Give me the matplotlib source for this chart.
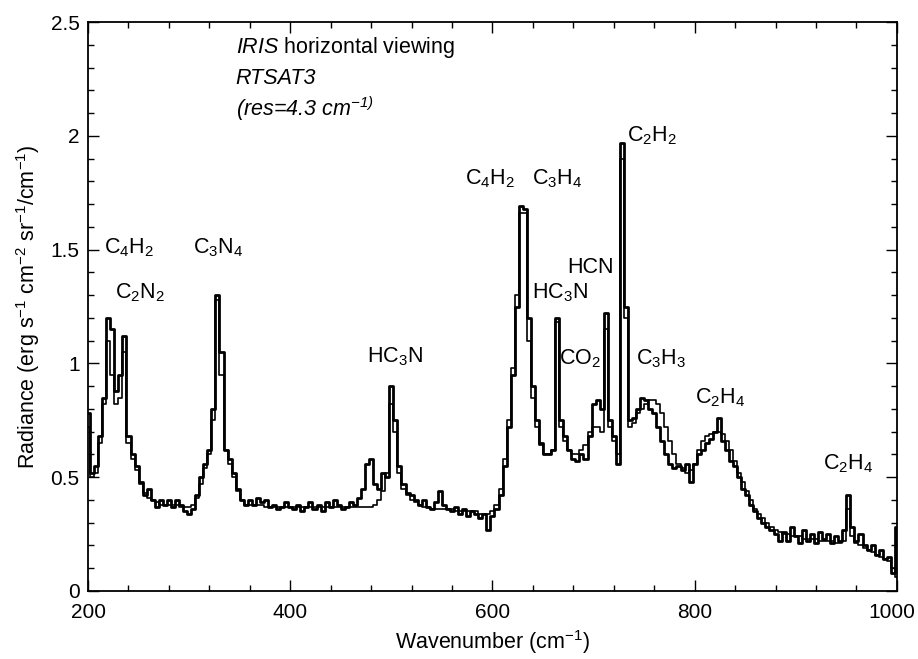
import numpy as np
import matplotlib
matplotlib.use("Agg")
import matplotlib.pyplot as plt
import matplotlib.transforms as mtransforms
from matplotlib.ticker import MultipleLocator, FormatStrFormatter

plt.rcParams['font.family'] = ['Liberation Sans', 'DejaVu Sans']
plt.rcParams['mathtext.fontset'] = 'custom'
plt.rcParams['mathtext.rm'] = 'Liberation Sans'
plt.rcParams['mathtext.it'] = 'Liberation Sans:italic'
plt.rcParams['mathtext.default'] = 'regular'

# wavenumber grid (cm-1), 4 cm-1 spacing
wavenumber = list(range(200, 1001, 4))

observed = [
    0.78, 0.52, 0.55, 0.68, 0.85, 1.20, 1.15, 0.88, 0.95, 1.12,   # 200-236
    0.68, 0.60, 0.55, 0.48, 0.42, 0.45, 0.40, 0.37, 0.40, 0.38,   # 240-276
    0.40, 0.37, 0.40, 0.38, 0.35, 0.34, 0.36, 0.42, 0.50, 0.56,   # 280-316
    0.62, 0.80, 1.30, 1.05, 0.62, 0.58, 0.52, 0.45, 0.40, 0.38,   # 320-356
    0.40, 0.38, 0.41, 0.39, 0.40, 0.37, 0.38, 0.36, 0.37, 0.39,   # 360-396
    0.37, 0.36, 0.38, 0.35, 0.37, 0.39, 0.36, 0.38, 0.35, 0.39,   # 400-436
    0.37, 0.40, 0.38, 0.36, 0.37, 0.39, 0.38, 0.41, 0.45, 0.56,   # 440-476
    0.58, 0.47, 0.45, 0.52, 0.50, 0.90, 0.75, 0.55, 0.47, 0.43,   # 480-516
    0.42, 0.40, 0.38, 0.40, 0.37, 0.36, 0.39, 0.44, 0.38, 0.36,   # 520-556
    0.35, 0.37, 0.34, 0.36, 0.33, 0.35, 0.34, 0.32, 0.34, 0.27,   # 560-596
    0.33, 0.36, 0.42, 0.55, 0.72, 0.95, 1.25, 1.69, 1.68, 1.20,   # 600-636
    0.90, 0.75, 0.65, 0.60, 0.60, 0.62, 1.20, 0.75, 0.68, 0.62,   # 640-676
    0.58, 0.57, 0.60, 0.58, 0.68, 0.82, 0.84, 0.80, 1.22, 0.75,   # 680-716
    0.68, 0.56, 1.97, 1.25, 0.75, 0.76, 0.80, 0.85, 0.84, 0.80,   # 720-756
    0.78, 0.72, 0.66, 0.60, 0.56, 0.54, 0.55, 0.53, 0.56, 0.48,   # 760-796
    0.56, 0.60, 0.62, 0.65, 0.67, 0.70, 0.76, 0.66, 0.62, 0.57,   # 800-836
    0.55, 0.50, 0.45, 0.42, 0.38, 0.35, 0.32, 0.30, 0.28, 0.27,   # 840-876
    0.25, 0.22, 0.26, 0.22, 0.28, 0.24, 0.21, 0.27, 0.22, 0.25,   # 880-916
    0.21, 0.26, 0.23, 0.25, 0.21, 0.24, 0.22, 0.27, 0.42, 0.28,   # 920-956
    0.22, 0.25, 0.20, 0.18, 0.20, 0.16, 0.18, 0.14, 0.15, 0.08,   # 960-996
    0.28,                                                         # 1000
]

# RTSAT3 synthetic spectrum
model = [
    0.72, 0.50, 0.52, 0.65, 0.82, 1.10, 0.95, 0.82, 0.85, 1.05,
    0.65, 0.58, 0.53, 0.47, 0.43, 0.41, 0.40, 0.39, 0.38, 0.38,
    0.38, 0.38, 0.38, 0.37, 0.37, 0.37, 0.38, 0.41, 0.47, 0.54,
    0.60, 0.75, 1.28, 0.95, 0.62, 0.56, 0.50, 0.44, 0.40, 0.38,
    0.38, 0.38, 0.38, 0.38, 0.37, 0.37, 0.37, 0.37, 0.37, 0.37,
    0.37, 0.37, 0.37, 0.37, 0.37, 0.37, 0.37, 0.37, 0.37, 0.37,
    0.37, 0.37, 0.37, 0.37, 0.37, 0.37, 0.37, 0.37, 0.37, 0.37,
    0.37, 0.38, 0.40, 0.44, 0.52, 0.82, 0.70, 0.52, 0.45, 0.42,
    0.40, 0.39, 0.38, 0.37, 0.37, 0.36, 0.36, 0.36, 0.36, 0.36,
    0.36, 0.35, 0.35, 0.35, 0.35, 0.35, 0.35, 0.34, 0.34, 0.34,
    0.35, 0.38, 0.45, 0.58, 0.75, 0.98, 1.30, 1.66, 1.66, 1.10,
    0.85, 0.72, 0.64, 0.60, 0.60, 0.62, 1.18, 0.72, 0.66, 0.62,
    0.60, 0.60, 0.62, 0.64, 0.70, 0.72, 0.72, 0.70, 1.15, 0.72,
    0.66, 0.60, 1.90, 1.20, 0.72, 0.74, 0.78, 0.80, 0.82, 0.84,
    0.84, 0.82, 0.78, 0.72, 0.66, 0.60, 0.56, 0.54, 0.52, 0.53,
    0.56, 0.62, 0.66, 0.68, 0.69, 0.70, 0.70, 0.69, 0.66, 0.62,
    0.57, 0.52, 0.48, 0.44, 0.40, 0.36, 0.34, 0.32, 0.30, 0.28,
    0.27, 0.26, 0.25, 0.25, 0.24, 0.24, 0.24, 0.23, 0.23, 0.23,
    0.23, 0.22, 0.22, 0.22, 0.22, 0.21, 0.21, 0.22, 0.36, 0.24,
    0.21, 0.20, 0.19, 0.18, 0.17, 0.16, 0.15, 0.14, 0.13, 0.10,
    0.06,
]

xticks = [200, 400, 600, 800, 1000]

# species labels: (text, wavenumber, radiance)
labels = [
    ('C$_4$H$_2$', 241, 1.51), ('C$_2$N$_2$', 251, 1.31), ('C$_3$N$_4$', 329, 1.51),
    ('HC$_3$N', 504, 1.03), ('C$_4$H$_2$', 598, 1.81), ('C$_3$H$_4$', 664, 1.81),
    ('C$_2$H$_2$', 758, 2.00), ('HCN', 697, 1.42), ('HC$_3$N', 667, 1.31),
    ('CO$_2$', 687, 1.02), ('C$_3$H$_3$', 767, 1.02), ('C$_2$H$_4$', 825, 0.85),
    ('C$_2$H$_4$', 952, 0.56),
]

fs = 15.5

fig = plt.figure(figsize=(9.18, 6.59), dpi=100)
ax = fig.add_axes([0.0959, 0.1032, 0.8811, 0.8634])

ax.plot(wavenumber, model, drawstyle='steps-mid', color='black', lw=1.2)
ax.plot(wavenumber, observed, drawstyle='steps-mid', color='black', lw=2.0)

ax.set_xlim(200, 1000)
ax.set_ylim(0, 2.5)
ax.set_xticks(xticks)
ax.xaxis.set_minor_locator(MultipleLocator(40))
ax.yaxis.set_major_locator(MultipleLocator(0.5))
ax.yaxis.set_minor_locator(MultipleLocator(0.1))
ax.yaxis.set_major_formatter(FormatStrFormatter('%g'))
ax.tick_params(which='both', direction='in', top=True, right=True, labelsize=15, width=1)
ax.tick_params(which='major', length=8, pad=6)
ax.tick_params(axis='x', which='major', pad=9)
ax.tick_params(which='minor', length=4.5)
for s in ax.spines.values():
    s.set_linewidth(1.3)

# nudge the "1000" label left so it stays inside the figure
last = ax.xaxis.get_major_ticks()[-1].label1
last.set_transform(last.get_transform() + mtransforms.ScaledTranslation(-4 / 72, 0, fig.dpi_scale_trans))

ax.set_xlabel('Wavenumber (cm$^{-1}$)', fontsize=fs, labelpad=4)
ax.set_ylabel('Radiance (erg s$^{-1}$ cm$^{-2}$ sr$^{-1}$/cm$^{-1}$)', fontsize=fs, labelpad=6)

for txt, xw, yv in labels:
    ax.text(xw, yv, txt, ha='center', va='center', fontsize=fs)

ax.text(346, 2.39, '$\\it{IRIS}$ horizontal viewing', ha='left', va='center', fontsize=fs)
ax.text(346, 2.25, 'RTSAT3', ha='left', va='center', fontsize=fs, style='italic')
ax.text(346, 2.12, '(res=4.3 cm$^{-1)}$', ha='left', va='center', fontsize=fs, style='italic')

fig.savefig('out.png', dpi=100)
